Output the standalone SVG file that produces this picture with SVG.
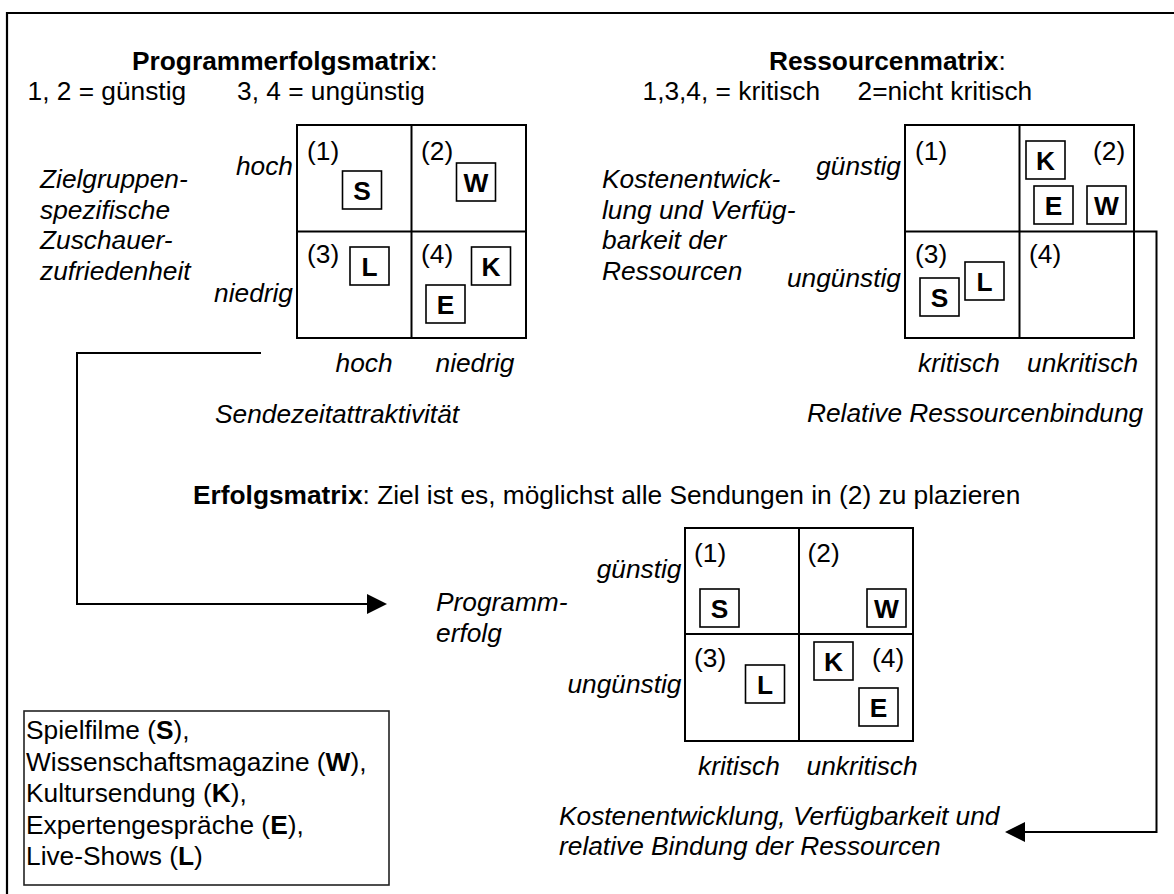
<svg xmlns="http://www.w3.org/2000/svg" width="1174" height="894" viewBox="0 0 1174 894">
  <style>
    text { font-family: "Liberation Sans", Arial, sans-serif; font-size: 26.3px; fill: #000; }
    .b { font-weight: bold; }
    .i { font-style: italic; }
    .end { text-anchor: end; }
    .mid { text-anchor: middle; }
    .grid { fill: none; stroke: #000; stroke-width: 2; }
    .item rect { fill: #fff; stroke: #000; stroke-width: 1.6; }
    .item text { font-weight: bold; text-anchor: middle; }
    .conn { fill: none; stroke: #000; stroke-width: 2; }
    .frame { fill: none; stroke: #000; stroke-width: 2.2; }
  </style>
  <defs>
    <marker id="arrow" markerUnits="userSpaceOnUse" markerWidth="20" markerHeight="20" refX="0" refY="10" orient="auto">
      <path d="M0,0 L20,10 L0,20 Z" fill="#000"/>
    </marker>
  </defs>

  <rect width="1174" height="894" fill="#fff"/>

  <!-- page frame: top and left rule -->
  <path class="frame" d="M1180,13 H7 V900"/>

  <!-- Programmerfolgsmatrix -->
  <g id="title-programm">
    <text x="132" y="70"><tspan class="b">Programmerfolgsmatrix</tspan>:</text>
    <text x="27.5" y="100">1, 2 = günstig</text>
    <text x="237" y="100">3, 4 = ungünstig</text>
  </g>
  <g id="axis-zuschauer" class="i">
    <text class="i" x="40" y="188">Zielgruppen-</text>
    <text class="i" x="40" y="218.5">spezifische</text>
    <text class="i" x="40" y="249">Zuschauer-</text>
    <text class="i" x="40" y="279.5">zufriedenheit</text>
    <text class="i end" x="293" y="175">hoch</text>
    <text class="i end" x="293" y="302">niedrig</text>
  </g>
  <g id="matrix-programm">
    <rect class="grid" x="297" y="125" width="229" height="213"/>
    <line class="grid" x1="411.5" y1="125" x2="411.5" y2="338"/>
    <line class="grid" x1="297" y1="231.5" x2="526" y2="231.5"/>
    <text x="307" y="160">(1)</text>
    <text x="421" y="160">(2)</text>
    <text x="307" y="263">(3)</text>
    <text x="421" y="263">(4)</text>
  </g>
  <g id="pm-S" class="item"><rect x="342.5" y="171" width="39" height="38"/><text x="362" y="200">S</text></g>
  <g id="pm-W" class="item"><rect x="456.5" y="163" width="39" height="38"/><text x="476" y="192">W</text></g>
  <g id="pm-L" class="item"><rect x="350" y="247" width="39" height="38"/><text x="369.5" y="276">L</text></g>
  <g id="pm-K" class="item"><rect x="471.5" y="247" width="39" height="38"/><text x="491" y="276">K</text></g>
  <g id="pm-E" class="item"><rect x="426" y="285" width="39" height="38"/><text x="445.5" y="314">E</text></g>
  <g id="axis-sendezeit">
    <text class="i" x="335.6" y="372">hoch</text>
    <text class="i" x="435.5" y="372">niedrig</text>
    <text class="i" x="215" y="423">Sendezeitattraktivität</text>
  </g>

  <!-- Ressourcenmatrix -->
  <g id="title-ressourcen">
    <text x="769" y="70"><tspan class="b">Ressourcenmatrix</tspan>:</text>
    <text x="642.5" y="100">1,3,4, = kritisch</text>
    <text x="857.5" y="100">2=nicht kritisch</text>
  </g>
  <g id="axis-kosten">
    <text class="i" x="602" y="188">Kostenentwick-</text>
    <text class="i" x="602" y="218.5">lung und Verfüg-</text>
    <text class="i" x="602" y="249">barkeit der</text>
    <text class="i" x="602" y="279.5">Ressourcen</text>
    <text class="i end" x="901" y="175">günstig</text>
    <text class="i end" x="901" y="287">ungünstig</text>
  </g>
  <g id="matrix-ressourcen">
    <rect class="grid" x="905" y="125" width="229" height="213"/>
    <line class="grid" x1="1019.5" y1="125" x2="1019.5" y2="338"/>
    <line class="grid" x1="905" y1="231.5" x2="1134" y2="231.5"/>
    <text x="915" y="160">(1)</text>
    <text x="1093" y="160">(2)</text>
    <text x="915" y="263">(3)</text>
    <text x="1029" y="263">(4)</text>
  </g>
  <g id="rm-K" class="item"><rect x="1026" y="141" width="39" height="38"/><text x="1045.5" y="170">K</text></g>
  <g id="rm-E" class="item"><rect x="1034" y="186" width="39" height="38"/><text x="1053.5" y="215">E</text></g>
  <g id="rm-W" class="item"><rect x="1087" y="186" width="39" height="38"/><text x="1106.5" y="215">W</text></g>
  <g id="rm-S" class="item"><rect x="920" y="278" width="39" height="38"/><text x="939.5" y="307">S</text></g>
  <g id="rm-L" class="item"><rect x="965" y="262" width="39" height="38"/><text x="984.5" y="291">L</text></g>
  <g id="axis-bindung">
    <text class="i" x="918" y="372">kritisch</text>
    <text class="i" x="1027" y="372">unkritisch</text>
    <text class="i" x="807" y="422">Relative Ressourcenbindung</text>
  </g>

  <!-- Erfolgsmatrix -->
  <g id="title-erfolg">
    <text x="193" y="504"><tspan class="b">Erfolgsmatrix</tspan>: Ziel ist es, möglichst alle Sendungen in (2) zu plazieren</text>
  </g>
  <g id="axis-programmerfolg">
    <text class="i" x="436" y="611">Programm-</text>
    <text class="i" x="436" y="642">erfolg</text>
    <text class="i end" x="681.5" y="578">günstig</text>
    <text class="i end" x="681.5" y="693">ungünstig</text>
  </g>
  <g id="matrix-erfolg">
    <rect class="grid" x="685" y="528" width="228" height="213"/>
    <line class="grid" x1="799" y1="528" x2="799" y2="741"/>
    <line class="grid" x1="685" y1="634" x2="913" y2="634"/>
    <text x="694" y="562">(1)</text>
    <text x="807.5" y="562">(2)</text>
    <text x="694" y="667">(3)</text>
    <text x="872" y="667">(4)</text>
  </g>
  <g id="em-S" class="item"><rect x="700" y="589" width="39" height="38"/><text x="719.5" y="618">S</text></g>
  <g id="em-W" class="item"><rect x="867" y="589" width="39" height="38"/><text x="886.5" y="618">W</text></g>
  <g id="em-L" class="item"><rect x="745.5" y="665" width="39" height="38"/><text x="765" y="694">L</text></g>
  <g id="em-K" class="item"><rect x="814" y="642" width="39" height="38"/><text x="833.5" y="671">K</text></g>
  <g id="em-E" class="item"><rect x="859" y="688" width="39" height="38"/><text x="878.5" y="717">E</text></g>
  <g id="axis-ressourcen-gesamt">
    <text class="i" x="698" y="775">kritisch</text>
    <text class="i" x="806.5" y="775">unkritisch</text>
    <text class="i" x="559" y="825">Kostenentwicklung, Verfügbarkeit und</text>
    <text class="i" x="559" y="855">relative Bindung der Ressourcen</text>
  </g>

  <!-- legend -->
  <g id="legend">
    <rect x="24" y="711" width="365" height="174" fill="none" stroke="#222" stroke-width="1.6"/>
    <text x="26" y="739">Spielfilme (<tspan class="b">S</tspan>),</text>
    <text x="26" y="770.5">Wissenschaftsmagazine (<tspan class="b">W</tspan>),</text>
    <text x="26" y="802">Kultursendung (<tspan class="b">K</tspan>),</text>
    <text x="26" y="833.5">Expertengespräche (<tspan class="b">E</tspan>),</text>
    <text x="26" y="865">Live-Shows (<tspan class="b">L</tspan>)</text>
  </g>

  <!-- connectors -->
  <g id="connectors">
    <path class="conn" d="M261,353 H77 V604 H367" marker-end="url(#arrow)"/>
    <path class="conn" d="M1134,231.5 H1156.5 V832 H1025" marker-end="url(#arrow)"/>
  </g>
</svg>
